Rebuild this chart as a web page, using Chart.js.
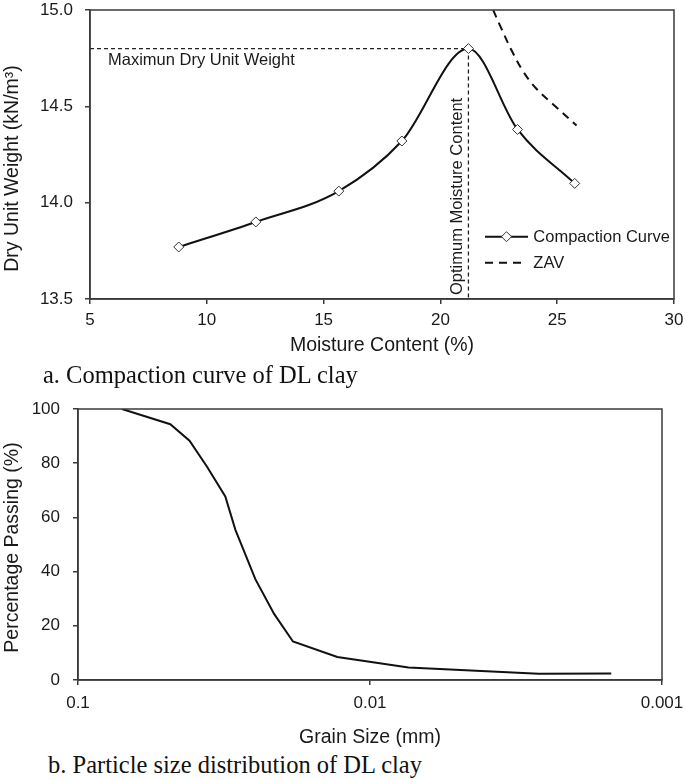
<!DOCTYPE html>
<html><head><meta charset="utf-8">
<script src="https://cdn.jsdelivr.net/npm/chart.js@4/dist/chart.umd.min.js"></script>
<style>
html,body{margin:0;padding:0;background:#fff;}
#wrap{position:relative;width:685px;height:780px;overflow:hidden;background:#fff;}
canvas{position:absolute;left:0;}
.cap{position:absolute;font-family:"Liberation Serif","Times New Roman",serif;font-size:24.5px;line-height:24px;color:#111;white-space:nowrap;}
</style></head><body>
<div id="wrap">
<canvas id="c1" width="685" height="362" style="top:0"></canvas>
<div class="cap" style="left:43px;top:363px">a. Compaction curve of DL clay</div>
<canvas id="c2" width="685" height="360" style="top:390px"></canvas>
<div class="cap" style="left:48px;top:753px">b. Particle size distribution of DL clay</div>
</div>
<script>
// ---- Chart a: compaction ----
const moisture = [8.8, 12.1, 15.65, 18.35, 21.2, 23.3, 25.75];
const dryUnitWeight = [13.77, 13.90, 14.06, 14.32, 14.80, 14.38, 14.10];
const zavMoisture = [22.26, 22.55, 23.05, 23.55, 24.12, 24.83, 25.83];
const zavWeight = [15.00, 14.92, 14.79, 14.68, 14.59, 14.51, 14.40];
const maxDryUnitWeight = 14.80;
const optimumMoisture = 21.2;
const moistureTicks = [5, 10, 15, 20, 25, 30];
const weightTicks = [13.5, 14.0, 14.5, 15.0];
const annotationLabels = ['Maximun Dry Unit Weight', 'Optimum Moisture Content'];

// ---- Chart b: particle size ----
const grainSize = [0.0707, 0.0483, 0.0415, 0.0361, 0.0313, 0.0289, 0.0247, 0.0213, 0.01836, 0.01294, 0.00738, 0.002646, 0.001492];
const percentPassing = [100, 94.4, 88.3, 78.6, 67.7, 55.4, 37.2, 24.4, 14.2, 8.5, 4.6, 2.3, 2.4];
const grainTicks = [0.1, 0.01, 0.001];
const passingTicks = [0, 20, 40, 60, 80, 100];

const FONT = '"Liberation Sans", Arial, sans-serif';
const INK = '#1a1a1a';
const AXIS = '#3a3a3a';
Chart.defaults.font.family = FONT;
Chart.defaults.color = INK;

function shiftTitle(s, dy) {
  if (s._shifted) return;
  const orig = Object.getPrototypeOf(s).drawTitle;
  s.drawTitle = function () { const c = this.ctx; c.save(); c.translate(0, dy); orig.call(this); c.restore(); };
  s._shifted = true;
}
function noPad(s) { s.paddingTop = 0; s.paddingBottom = 0; s.paddingLeft = 0; s.paddingRight = 0; }

const framePlugin = {
  id: 'frame',
  afterDraw(chart) {
    const a = chart.chartArea, ctx = chart.ctx;
    ctx.save(); ctx.strokeStyle = AXIS; ctx.lineWidth = 1.5;
    ctx.strokeRect(a.left, a.top, a.right - a.left, a.bottom - a.top);
    ctx.restore();
  }
};

const annotPlugin = {
  id: 'annot',
  afterDatasetsDraw(chart) {
    const { ctx, scales: { x, y } } = chart;
    ctx.save();
    ctx.fillStyle = INK; ctx.font = '16.5px ' + FONT;
    ctx.textAlign = 'left'; ctx.textBaseline = 'alphabetic';
    ctx.fillText(annotationLabels[0], x.getPixelForValue(moistureTicks[0]) + 18, y.getPixelForValue(maxDryUnitWeight) + 16);
    const px = x.getPixelForValue(optimumMoisture);
    ctx.translate(px - 6.5, y.getPixelForValue(weightTicks[0]) - 4);
    ctx.rotate(-Math.PI / 2);
    ctx.fillText(annotationLabels[1], 0, 0);
    ctx.restore();
  }
};

const legendPlugin = {
  id: 'customLegend',
  afterDraw(chart) {
    const a = chart.chartArea, ctx = chart.ctx, ds = chart.data.datasets;
    const x0 = a.right - 189, x1 = a.right - 146, tx = a.right - 140.7;
    const rows = [a.bottom - 62.3, a.bottom - 36.3];
    ctx.save();
    ctx.font = '16.5px ' + FONT; ctx.fillStyle = INK; ctx.textBaseline = 'middle'; ctx.textAlign = 'left';
    [0, 1].forEach((i, k) => {
      const d = ds[i], yy = rows[k];
      ctx.strokeStyle = d.borderColor; ctx.lineWidth = d.borderWidth;
      ctx.setLineDash(d.borderDash || []);
      const end = d.borderDash ? a.right - 152 : x1;
      ctx.beginPath(); ctx.moveTo(x0, yy); ctx.lineTo(end, yy); ctx.stroke();
      ctx.setLineDash([]);
      if (d.pointRadius) {
        const r = d.pointRadius, cx = (x0 + x1) / 2;
        ctx.beginPath(); ctx.moveTo(cx - r, yy); ctx.lineTo(cx, yy - r); ctx.lineTo(cx + r, yy); ctx.lineTo(cx, yy + r); ctx.closePath();
        ctx.fillStyle = d.pointBackgroundColor; ctx.fill();
        ctx.lineWidth = d.pointBorderWidth; ctx.strokeStyle = d.pointBorderColor; ctx.stroke();
        ctx.fillStyle = INK;
      }
      ctx.fillText(d.label, tx, yy + 0.8);
    });
    ctx.restore();
  }
};

function tickGrid() {
  return { display: true, drawOnChartArea: false, drawTicks: true, tickLength: 5, color: AXIS, lineWidth: 1.5 };
}

new Chart(document.getElementById('c1'), {
  type: 'line',
  data: {
    datasets: [
      { label: 'Compaction Curve', data: moisture.map((m, i) => ({ x: m, y: dryUnitWeight[i] })),
        borderColor: '#111', borderWidth: 2, cubicInterpolationMode: 'monotone', pointStyle: 'rectRot', pointRadius: 5,
        pointBackgroundColor: '#fff', pointBorderColor: '#333', pointBorderWidth: 1, order: 0 },
      { label: 'ZAV', data: zavMoisture.map((m, i) => ({ x: m, y: zavWeight[i] })),
        borderColor: '#111', borderWidth: 2, borderDash: [8, 6], tension: 0.4, pointRadius: 0, order: 1 },
      { label: 'max', data: [{ x: moistureTicks[0], y: maxDryUnitWeight }, { x: optimumMoisture, y: maxDryUnitWeight }],
        borderColor: '#222', borderWidth: 1.3, borderDash: [4, 3], tension: 0, pointRadius: 0, order: 2 },
      { label: 'opt', data: [{ x: optimumMoisture, y: maxDryUnitWeight }, { x: optimumMoisture, y: weightTicks[0] }],
        borderColor: '#222', borderWidth: 1.3, borderDash: [4, 3], tension: 0, pointRadius: 0, order: 3 }
    ]
  },
  options: {
    responsive: false, animation: false, devicePixelRatio: 1,
    layout: { padding: { left: 0, right: 11, top: 10, bottom: 0 } },
    plugins: { legend: { display: false }, tooltip: { enabled: false } },
    scales: {
      x: {
        type: 'linear', min: moistureTicks[0], max: moistureTicks[moistureTicks.length - 1],
        afterBuildTicks(s) { s.ticks = moistureTicks.map(v => ({ value: v })); },
        ticks: { font: { size: 17 }, color: INK, padding: 6, autoSkip: false, maxRotation: 0, callback: v => String(v) },
        grid: tickGrid(), border: { display: true, color: AXIS, width: 1.5 },
        title: { display: true, text: 'Moisture Content (%)', font: { size: 19.5 }, color: INK, padding: { top: 0, bottom: 5 } },
        afterFit(s) { s.height = 63; noPad(s); }
      },
      y: {
        type: 'linear', min: weightTicks[0], max: weightTicks[weightTicks.length - 1],
        afterBuildTicks(s) { s.ticks = weightTicks.map(v => ({ value: v })); },
        ticks: { font: { size: 17 }, color: INK, padding: 12, autoSkip: false, callback: v => v.toFixed(1) },
        grid: tickGrid(), border: { display: true, color: AXIS, width: 1.5 },
        title: { display: true, text: 'Dry Unit Weight (kN/m³)', font: { size: 19.5 }, color: INK, padding: { top: 1, bottom: 0 } },
        afterFit(s) { s.width = 90; noPad(s); shiftTitle(s, 14); }
      }
    }
  },
  plugins: [framePlugin, annotPlugin, legendPlugin]
});

new Chart(document.getElementById('c2'), {
  type: 'line',
  data: {
    datasets: [
      { label: 'Percentage Passing', data: grainSize.map((g, i) => ({ x: g, y: percentPassing[i] })),
        borderColor: '#111', borderWidth: 2, tension: 0, pointRadius: 0 }
    ]
  },
  options: {
    responsive: false, animation: false, devicePixelRatio: 1,
    layout: { padding: { left: 0, right: 23, top: 19, bottom: 0 } },
    plugins: { legend: { display: false }, tooltip: { enabled: false } },
    scales: {
      x: {
        type: 'logarithmic', reverse: true, min: grainTicks[2], max: grainTicks[0],
        afterBuildTicks(s) { s.ticks = grainTicks.map(v => ({ value: v })); },
        ticks: { font: { size: 17 }, color: INK, padding: 8, autoSkip: false, maxRotation: 0, callback: v => String(v) },
        grid: tickGrid(), border: { display: true, color: AXIS, width: 1.5 },
        title: { display: true, text: 'Grain Size (mm)', font: { size: 19.5 }, color: INK, padding: { top: 0, bottom: 1 } },
        afterFit(s) { s.height = 70; noPad(s); }
      },
      y: {
        type: 'linear', min: passingTicks[0], max: passingTicks[passingTicks.length - 1],
        afterBuildTicks(s) { s.ticks = passingTicks.map(v => ({ value: v })); },
        ticks: { font: { size: 17 }, color: INK, padding: 13, autoSkip: false, callback: v => String(v) },
        grid: tickGrid(), border: { display: true, color: AXIS, width: 1.5 },
        title: { display: true, text: 'Percentage Passing (%)', font: { size: 19.5 }, color: INK, padding: { top: 1, bottom: 0 } },
        afterFit(s) { s.width = 78; noPad(s); shiftTitle(s, 3); }
      }
    }
  },
  plugins: [framePlugin]
});
</script>
</body></html>
